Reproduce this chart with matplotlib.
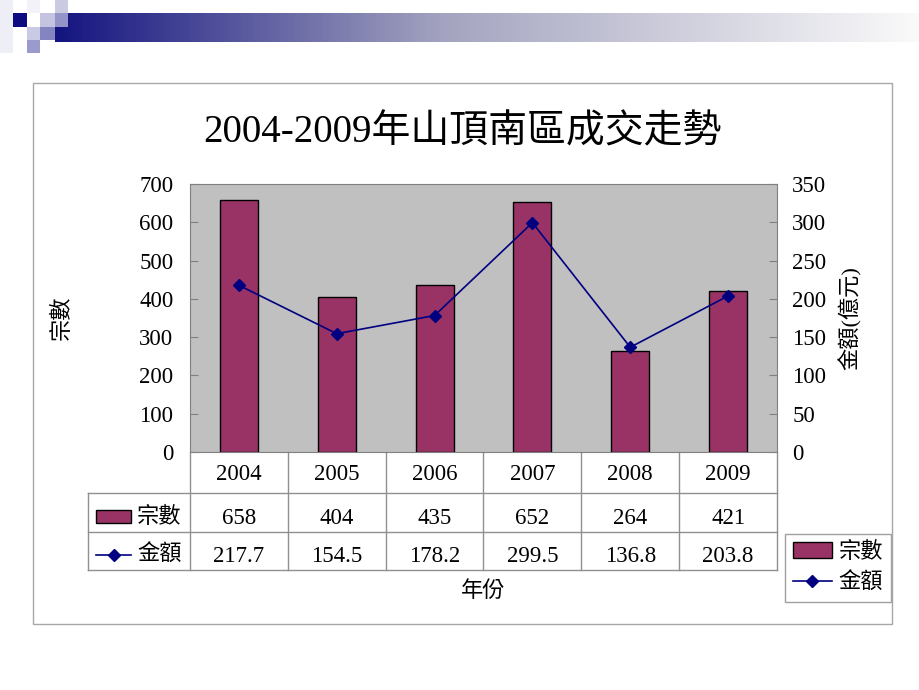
import matplotlib.pyplot as plt
import matplotlib.transforms as mtransforms
from matplotlib.patches import Rectangle
from matplotlib.lines import Line2D
from matplotlib.colors import LinearSegmentedColormap
import numpy as np

years = ["2004", "2005", "2006", "2007", "2008", "2009"]
counts = [658, 404, 435, 652, 264, 421]
amounts = [217.7, 154.5, 178.2, 299.5, 136.8, 203.8]
count_name = "宗數"
amount_name = "金額"
title = "2004-2009年山頂南區成交走勢"

FONT = ["Liberation Serif", "Noto Sans CJK TC", "DejaVu Sans"]
plt.rcParams["font.family"] = FONT

W, H = 920, 690
fig = plt.figure(figsize=(W / 100, H / 100), dpi=100)


def fx(x):
    return x / W


def fy(y):
    return 1 - y / H


# slide decoration: gradient bar + squares
gax = fig.add_axes([fx(55), fy(42), fx(W - 55), 29 / H])
cmap = LinearSegmentedColormap.from_list(
    "hdr", [(0, "#141480"), (0.45, "#a4a4c0"), (1, "#fafafa")])
gax.imshow(np.linspace(0, 1, 256)[None, :], cmap=cmap, aspect="auto",
           extent=(0, 1, 0, 1))
gax.axis("off")
for (x0, y0, x1, y1, c) in [
    (0, 0, 13, 53, "#eeeef6"),
    (13, 13, 27, 27, "#0c0c80"),
    (27, 0, 40, 13, "#f2f2f8"),
    (40, 13, 55, 27, "#c4c4e0"),
    (55, 0, 68, 13, "#cacae2"),
    (55, 13, 68, 27, "#9494c8"),
    (40, 27, 55, 40, "#8484c0"),
    (27, 27, 40, 40, "#cacae4"),
    (27, 40, 40, 53, "#9a9acc"),
]:
    fig.add_artist(Rectangle((fx(x0), fy(y1)), fx(x1 - x0), (y1 - y0) / H,
                             transform=fig.transFigure, color=c, lw=0))

# chart border
fig.add_artist(Rectangle((fx(33), fy(624)), fx(892 - 33), (624 - 83) / H,
                         transform=fig.transFigure, fill=False,
                         edgecolor="#a8a8a8", lw=1))

fig.text(fx(462), fy(133), title, fontsize=28, ha="center", va="center")

ax = fig.add_axes([fx(190), fy(452), fx(587), 268 / H])
ax.set_facecolor("#c0c0c0")
x = np.arange(len(years))
bars = ax.bar(x, counts, width=0.39, color="#993366", edgecolor="black", lw=1)
ax.set_xlim(-0.5, len(years) - 0.5)
ax.set_ylim(0, 700)
ax.set_yticks(range(0, 701, 100))
ax.set_xticks([])
for s in ax.spines.values():
    s.set_color("#808080")
ax.tick_params(axis="y", direction="in", length=6, color="#808080",
               labelsize=16.5, pad=12)
ax.set_ylabel(count_name, fontsize=16)
ax.yaxis.set_label_coords((73 - 190) / 587, 0.5)

ax2 = ax.twinx()
line, = ax2.plot(x, amounts, color="#000080", lw=1.2, marker="D",
                 markersize=6)
ax2.set_ylim(0, 350)
ax2.set_yticks(range(0, 351, 50))
for s in ax2.spines.values():
    s.set_visible(False)
ax2.tick_params(axis="y", direction="in", length=6, color="#808080",
                labelsize=16.5, pad=11)
ax2.set_ylabel("金額(億元)", fontsize=16, rotation=90)
ax2.yaxis.set_label_coords((838 - 190) / 587, 0.5)

# data table below the plot
bt = mtransforms.blended_transform_factory(ax.transData, ax.transAxes)
ta = ax.transAxes
grid = dict(color="#909090", lw=1, clip_on=False)


def ay(py):
    return (452 - py) / 268


def axx(px):
    return (px - 190) / 587


left = axx(88)
for yy in [493, 532, 570]:
    ax.add_line(Line2D([left, 1], [ay(yy), ay(yy)], transform=ta, **grid))
ax.add_line(Line2D([left, left], [ay(493), ay(570)], transform=ta, **grid))
for b in np.arange(len(years) + 1) - 0.5:
    ax.add_line(Line2D([b, b], [0, ay(570)], transform=bt, **grid))

for i, yr in enumerate(years):
    ax.text(i, ay(475), yr, transform=bt, ha="center", va="center",
            fontsize=16.5)
    ax.text(i, ay(518), str(counts[i]), transform=bt, ha="center",
            va="center", fontsize=16.5)
    ax.text(i, ay(556), f"{amounts[i]:.1f}", transform=bt, ha="center",
            va="center", fontsize=16.5)

ax.add_patch(Rectangle((axx(96), ay(523)), axx(131) - axx(96),
                       ay(510) - ay(523), transform=ta, clip_on=False,
                       facecolor="#993366", edgecolor="black", lw=1))
ax.text(axx(137), ay(517), count_name, transform=ta, ha="left",
        va="center", fontsize=16)
ax.add_line(Line2D([axx(96), axx(131)], [ay(555), ay(555)], transform=ta,
                   color="#000080", lw=1.2, clip_on=False))
ax.add_line(Line2D([axx(114)], [ay(555)], transform=ta, color="#000080",
                   marker="D", markersize=6, clip_on=False))
ax.text(axx(137), ay(555), amount_name, transform=ta, ha="left",
        va="center", fontsize=16)

ax.text(0.5, ay(592), "年份", transform=ta, ha="center", va="center",
        fontsize=16)

leg = fig.legend([bars, line], [count_name, amount_name], loc="upper left",
                 bbox_to_anchor=(fx(785), fy(534)), borderaxespad=0,
                 fontsize=16, fancybox=False, edgecolor="#a0a0a0",
                 framealpha=1, handlelength=1.75, handletextpad=0.3,
                 borderpad=0.35, labelspacing=0.45)
leg.get_frame().set_linewidth(1)

fig.savefig("out.png", dpi=100)
